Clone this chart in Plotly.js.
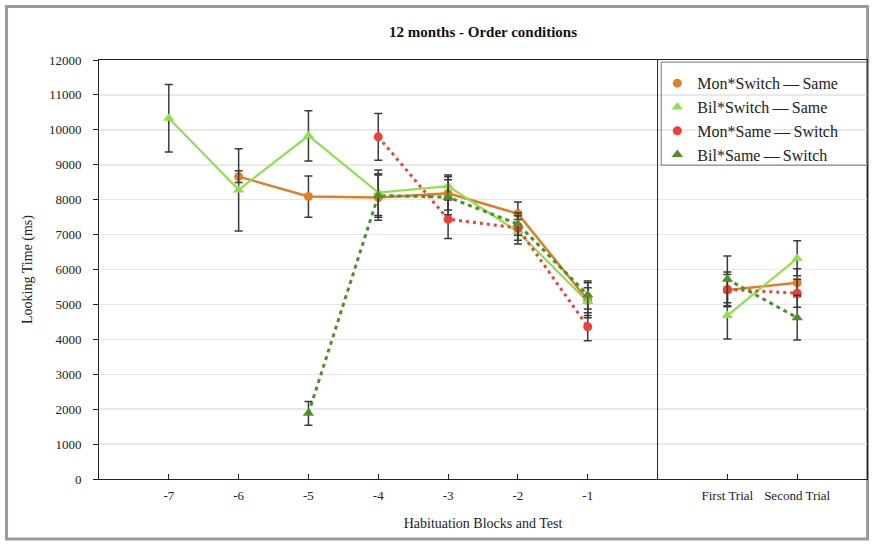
<!DOCTYPE html>
<html>
<head>
<meta charset="utf-8">
<script src="https://cdn.plot.ly/plotly-3.0.1.min.js"></script>
<style>
  html, body { margin: 0; padding: 0; background: #ffffff; }
  #chart { width: 873px; height: 544px; }
</style>
</head>
<body>
<div id="chart"></div>
<script>
// ---- Data ----
const categories = ['-7', '-6', '-5', '-4', '-3', '-2', '-1', '', 'First Trial', 'Second Trial'];

const seriesNames = ['Mon*Switch\u2009\u2014\u2009Same', 'Bil*Switch\u2009\u2014\u2009Same', 'Mon*Same\u2009\u2014\u2009Switch', 'Bil*Same\u2009\u2014\u2009Switch'];

const monSwitchSame    = [null, 8660, 8090, 8060, 8180, 7600, 5120, null, 5410, 5620];
const monSwitchSameErr = [null,  170,  590,  650,  475,  330,  500, null,  450,  400];

const bilSwitchSame    = [10330, 8280, 9830, 8200, 8390, 7080, 5080, null, 4680, 6320];
const bilSwitchSameErr = [  965, 1175,  720,  650,  320,  350,  400, null,  670,  500];

const monSameSwitch    = [null, null, null, 9800, 7440, 7190, 4360, null, 5430, 5320];
const monSameSwitchErr = [null, null, null,  670,  550,  350,  400, null,  500,  400];

const bilSameSwitch    = [null, null, 1880, 8120, 8070, 7300, 5270, null, 5720, 4620];
const bilSameSwitchErr = [null, null,  340,  620,  500,  320,  400, null,  670,  640];

const yTicks = [0, 1000, 2000, 3000, 4000, 5000, 6000, 7000, 8000, 9000, 10000, 11000, 12000];

// ---- Styles ----
const FONT = 'Liberation Serif, Times New Roman, serif';
const styles = [
  { color: '#DE8028', symbol: 'circle',      size: 9,  dash: 'solid',     width: 2.5 },
  { color: '#8EE050', symbol: 'triangle-up', size: 10, dash: 'solid',     width: 2.2 },
  { color: '#EE4035', symbol: 'circle',      size: 9,  dash: '3px,4px',   width: 3 },
  { color: '#4F8F2A', symbol: 'triangle-up', size: 10, dash: '4px,4px',   width: 3 }
];
const values = [monSwitchSame, bilSwitchSame, monSameSwitch, bilSameSwitch];
const errors = [monSwitchSameErr, bilSwitchSameErr, monSameSwitchErr, bilSameSwitchErr];

const xs = categories.map((c, i) => i);

const traces = [];
// lines (no legend)
values.forEach((v, k) => {
  traces.push({
    x: xs, y: v, type: 'scatter', mode: 'lines',
    connectgaps: false, showlegend: false, hoverinfo: 'skip',
    line: { color: styles[k].color, width: styles[k].width, dash: styles[k].dash }
  });
});
// markers with error bars (legend)
values.forEach((v, k) => {
  traces.push({
    x: xs, y: v, type: 'scatter', mode: 'markers',
    name: seriesNames[k],
    marker: { color: styles[k].color, symbol: styles[k].symbol, size: styles[k].size },
    error_y: { type: 'data', array: errors[k], visible: true, color: '#3a3a3a', thickness: 1.5, width: 4 }
  });
});

const dividerIndex = categories.indexOf('');

const layout = {
  width: 873, height: 544,
  margin: { l: 99, r: 6, t: 60, b: 65 },
  paper_bgcolor: '#ffffff',
  plot_bgcolor: '#ffffff',
  font: { family: FONT, color: '#222', size: 13 },
  title: {
    text: '<b>12 months - Order conditions</b>',
    font: { family: FONT, size: 15, color: '#111' },
    x: 0.5, xref: 'paper', xanchor: 'center',
    y: 0.941, yref: 'container', yanchor: 'middle'
  },
  xaxis: {
    range: [-1, 10],
    tickmode: 'array', tickvals: xs, ticktext: categories,
    ticks: 'inside', ticklen: 5, tickcolor: '#222', tickwidth: 1,
    ticklabelstandoff: 4,
    showgrid: false, zeroline: false,
    showline: true, linecolor: '#222', linewidth: 1, mirror: true,
    tickfont: { family: FONT, size: 13, color: '#222' },
    title: { text: 'Habituation Blocks and Test', font: { family: FONT, size: 14, color: '#222' }, standoff: 16 }
  },
  yaxis: {
    range: [0, 12000],
    tickmode: 'array', tickvals: yTicks, ticktext: yTicks.map(String),
    ticks: 'outside', ticklen: 5, tickcolor: '#222', tickwidth: 1,
    ticklabelstandoff: 9,
    showgrid: true, gridcolor: '#e8e8e8', gridwidth: 1.5,
    zeroline: false,
    showline: true, linecolor: '#222', linewidth: 1, mirror: true,
    tickfont: { family: FONT, size: 13, color: '#222' },
    title: { text: 'Looking Time (ms)', font: { family: FONT, size: 14, color: '#222' }, standoff: 13 }
  },
  legend: {
    x: 0.727, y: 0.985, xanchor: 'left', yanchor: 'top',
    bgcolor: 'rgba(255,255,255,0)',
    borderwidth: 0,
    font: { family: FONT, size: 16, color: '#222' },
    tracegroupgap: 0
  },
  shapes: [
    { type: 'line', xref: 'x', yref: 'paper', x0: dividerIndex, x1: dividerIndex, y0: 0, y1: 1,
      line: { color: '#222', width: 1 } },
    { type: 'rect', xref: 'paper', yref: 'paper', x0: 0.732, x1: 1, y0: 0.749, y1: 0.995,
      line: { color: '#777', width: 1 }, fillcolor: 'rgba(0,0,0,0)', layer: 'above' },
    { type: 'rect', xref: 'paper', yref: 'paper', x0: -0.1204, x1: 1.0007, y0: -0.1432, y1: 1.1277,
      line: { color: '#9a9a9a', width: 3 }, fillcolor: 'rgba(0,0,0,0)', layer: 'below' }
  ],
  showlegend: true
};

Plotly.newPlot('chart', traces, layout, { displayModeBar: false, staticPlot: true });
</script>
</body>
</html>
